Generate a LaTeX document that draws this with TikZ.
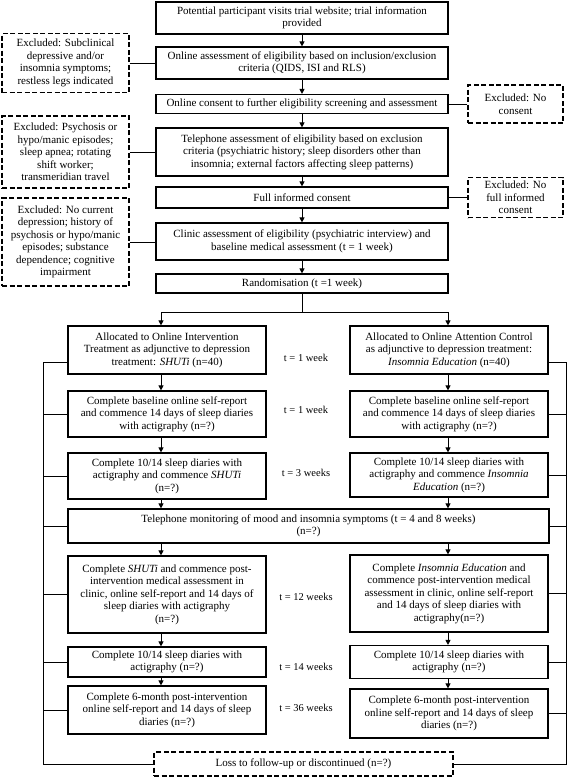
\documentclass[tikz,border=0pt]{standalone}
\usepackage{fontspec}
\setmainfont{Liberation Serif}
\usetikzlibrary{arrows.meta,calc}
\begin{document}
\begin{tikzpicture}[x=1pt,y=-1pt,
  box/.style={draw,line width=1.2pt,align=center,inner sep=1pt,font=\fontsize{11}{12.5}\selectfont},
  exclbox/.style={box,dash pattern=on 5pt off 2.5pt},
  mainbox/.style={box,minimum width=292pt},
  colbox/.style={box,minimum width=198pt},
  lbl/.style={font=\fontsize{10.5}{12}\selectfont,inner sep=0pt},
  conn/.style={line width=1pt},
  arr/.style={conn,-{Triangle[length=5pt,width=5pt]}}]
\useasboundingbox (0,0) rectangle (568,779);
% main column
\node[mainbox,minimum height=32pt] (b1) at (302,18) {Potential participant visits trial website; trial information\\provided};
\node[mainbox,minimum height=32pt] (b2) at (302,63) {Online assessment of eligibility based on inclusion/exclusion\\criteria (QIDS, ISI and RLS)};
\node[mainbox,minimum height=19pt] (b3) at (302,104) {Online consent to further eligibility screening and assessment};
\node[mainbox,minimum height=48pt] (b4) at (302,152) {Telephone assessment of eligibility based on exclusion\\criteria (psychiatric history; sleep disorders other than\\insomnia; external factors affecting sleep patterns)};
\node[mainbox,minimum height=21pt] (b5) at (302,197.5) {Full informed consent};
\node[mainbox,minimum height=37pt] (b6) at (302,241.5) {Clinic assessment of eligibility (psychiatric interview) and\\baseline medical assessment (t = 1 week)};
\node[mainbox,minimum height=19pt] (b7) at (302,283.5) {Randomisation (t =1 week)};
% exclusions
\node[exclbox,minimum width=127pt,minimum height=59pt] (e1) at (65.5,63) {Excluded: Subclinical\\depressive and/or\\insomnia symptoms;\\restless legs indicated};
\node[exclbox,minimum width=95pt,minimum height=38pt] (e2) at (515.5,104) {Excluded: No\\consent};
\node[exclbox,minimum width=127pt,minimum height=72pt] (e3) at (65.5,152) {Excluded: Psychosis or\\hypo/manic episodes;\\sleep apnea; rotating\\shift worker;\\transmeridian travel};
\node[exclbox,minimum width=95pt,minimum height=40pt] (e4) at (515.5,197.5) {Excluded: No\\full informed\\consent};
\node[exclbox,minimum width=127pt,minimum height=88pt] (e5) at (65.5,242) {Excluded: No current\\depression; history of\\psychosis or hypo/manic\\episodes; substance\\dependence; cognitive\\impairment};
% arms
\node[colbox,minimum height=48pt] (a1) at (167,350) {Allocated to Online Intervention\\Treatment as adjunctive to depression\\treatment: \textit{SHUTi} (n=40)};
\node[colbox,minimum height=48pt] (a2) at (449,350) {Allocated to Online Attention Control\\as adjunctive to depression treatment:\\\textit{Insomnia Education} (n=40)};
\node[colbox,minimum height=46pt] (c1) at (167,414) {Complete baseline online self-report\\and commence 14 days of sleep diaries\\with actigraphy (n=?)};
\node[colbox,minimum height=46pt] (c2) at (449,414) {Complete baseline online self-report\\and commence 14 days of sleep diaries\\with actigraphy (n=?)};
\node[colbox,minimum height=46pt] (d1) at (167,476) {Complete 10/14 sleep diaries with\\actigraphy and commence \textit{SHUTi}\\(n=?)};
\node[colbox,minimum height=44pt] (d2) at (449,475) {Complete 10/14 sleep diaries with\\actigraphy and commence \textit{Insomnia}\\\textit{Education} (n=?)};
\node[box,minimum width=481pt,minimum height=34pt] (tel) at (308.5,526) {Telephone monitoring of mood and insomnia symptoms (t = 4 and 8 weeks)\\(n=?)};
\node[colbox,minimum height=77pt] (f1) at (167,594.5) {Complete \textit{SHUTi} and commence post-\\intervention medical assessment in\\clinic, online self-report and 14 days of\\sleep diaries with actigraphy\\(n=?)};
\node[colbox,minimum height=77pt] (f2) at (449,593.5) {Complete \textit{Insomnia Education} and\\commence post-intervention medical\\assessment in clinic, online self-report\\and 14 days of sleep diaries with\\actigraphy(n=?)};
\node[colbox,minimum height=30pt] (g1) at (167,662) {Complete 10/14 sleep diaries with\\actigraphy (n=?)};
\node[colbox,minimum height=33pt] (g2) at (449,662) {Complete 10/14 sleep diaries with\\actigraphy (n=?)};
\node[colbox,minimum height=48pt] (h1) at (167,710) {Complete 6-month post-intervention\\online self-report and 14 days of sleep\\diaries (n=?)};
\node[colbox,minimum height=49pt] (h2) at (449,713.5) {Complete 6-month post-intervention\\online self-report and 14 days of sleep\\diaries (n=?)};
\node[exclbox,minimum width=299pt,minimum height=24pt] (loss) at (303.5,764) {Loss to follow-up or discontinued (n=?)};
% time labels
\node[lbl] (t1) at (306,358) {t = 1 week};
\node[lbl] (t2) at (306,410) {t = 1 week};
\node[lbl] (t3) at (306,473) {t = 3 weeks};
\node[lbl] (t4) at (306,597) {t = 12 weeks};
\node[lbl] (t5) at (306,667) {t = 14 weeks};
\node[lbl] (t6) at (306,708) {t = 36 weeks};
% main arrows
\draw[arr] (b1.south) -- (b2.north);
\draw[arr] (b2.south) -- (b3.north);
\draw[arr] (b3.south) -- (b4.north);
\draw[arr] (b4.south) -- (b5.north);
\draw[arr] (b5.south) -- (b6.north);
\draw[arr] (b6.south) -- (b7.north);
% exclusion links
\draw[conn] (e1.east) -- (e1.east -| b2.west);
\draw[conn] (e3.east) -- (e3.east -| b4.west);
\draw[conn] (e5.east) -- (e5.east -| b6.west);
\draw[conn] (e2.west) -- (e2.west -| b3.east);
\draw[conn] (e4.west) -- (e4.west -| b5.east);
% randomisation branch
\coordinate (br) at (302,312);
\coordinate (lx) at (161,312);
\coordinate (rx) at (448,312);
\draw[conn] (b7.south) -- (br);
\draw[arr] (br) -| (lx |- a1.north);
\draw[arr] (br) -| (rx |- a2.north);
% left arm arrows
\draw[arr] (lx |- a1.south) -- (lx |- c1.north);
\draw[arr] (lx |- c1.south) -- (lx |- d1.north);
\draw[arr] (lx |- d1.south) -- (lx |- tel.north);
\draw[arr] (lx |- tel.south) -- (lx |- f1.north);
\draw[arr] (lx |- f1.south) -- (lx |- g1.north);
\draw[arr] (lx |- g1.south) -- (lx |- h1.north);
% right arm arrows
\draw[arr] (rx |- a2.south) -- (rx |- c2.north);
\draw[arr] (rx |- c2.south) -- (rx |- d2.north);
\draw[arr] (rx |- d2.south) -- (rx |- tel.north);
\draw[arr] (rx |- tel.south) -- (rx |- f2.north);
\draw[arr] (rx |- f2.south) -- (rx |- g2.north);
\draw[arr] (rx |- g2.south) -- (rx |- h2.north);
% loss-to-follow-up brackets
\coordinate (lb) at (43,362);
\coordinate (rb) at (566,362);
\draw[conn] (a1.west |- lb) -- (lb) -- (lb |- loss.west) -- (loss.west);
\draw[conn] (a2.east |- rb) -- (rb) -- (rb |- loss.east) -- (loss.east);
\foreach \n in {c1,d1,tel,f1,g1,h1} \draw[conn] (\n.west) -- (\n.west -| lb);
\foreach \n in {c2,d2,tel,f2,g2,h2} \draw[conn] (\n.east) -- (\n.east -| rb);
\end{tikzpicture}
\end{document}
